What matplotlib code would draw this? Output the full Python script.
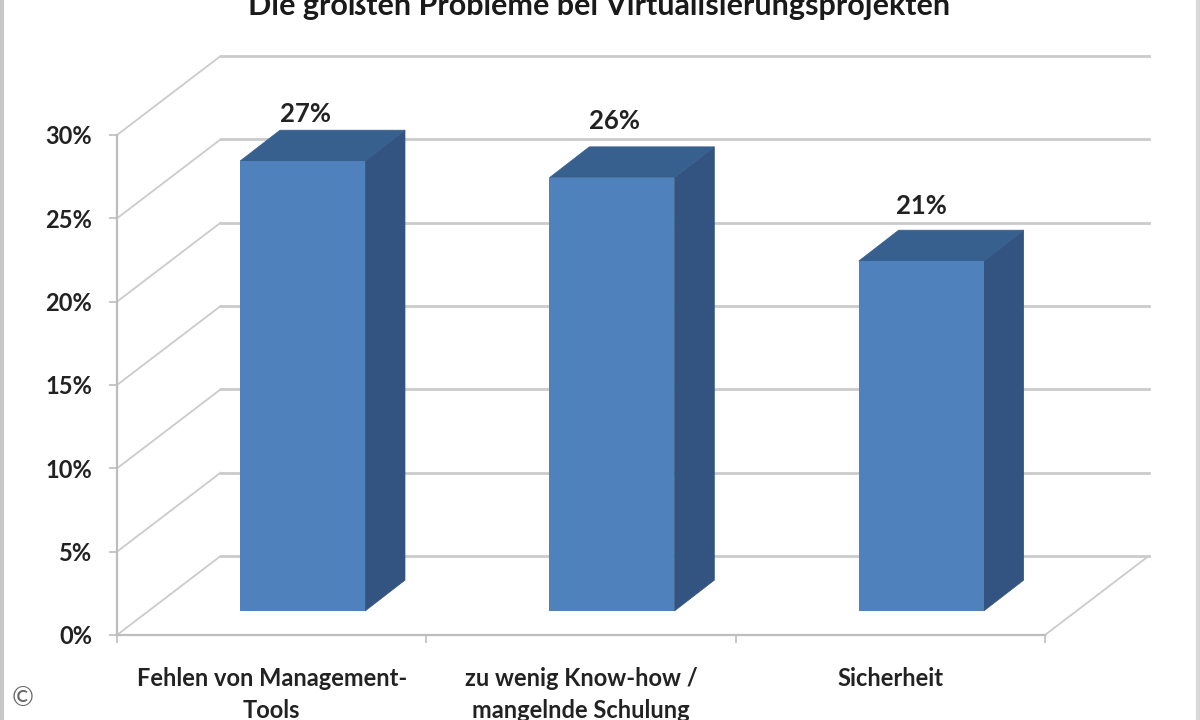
import matplotlib
matplotlib.use('Agg')
import matplotlib.pyplot as plt

plt.rcParams['font.family'] = ['Lato', 'DejaVu Sans']

categories = ['Fehlen von Management-\nTools', 'zu wenig Know-how /\nmangelnde Schulung', 'Sicherheit']
values = [27, 26, 21]
value_labels = ['27%', '26%', '21%']
y_ticks = [0, 5, 10, 15, 20, 25, 30]
y_tick_labels = ['0%', '5%', '10%', '15%', '20%', '25%', '30%']
label_gaps = [4, 14, 12]
label_shifts = [3, 3, 0]

grid_color = '#cbcbcb'
text_color = '#222222'

# 3d look: depth of the floor and of the bars in data units
depth_x = 0.335
depth_y = 4.74
bar_width = 0.404
bar_shift_x = 0.10
bar_shift_y = 1.44
bar_depth_x = 0.129
bar_depth_y = 1.85

fig = plt.figure(figsize=(12, 7.2), dpi=100)
ax = fig.add_axes([117 / 1200, 85 / 720, 928 / 1200, 500 / 720])
ax.set_xlim(0, 3)
ax.set_ylim(0, 30)
ax.patch.set_visible(False)

# walls
for y in y_ticks:
    ax.plot([0, depth_x], [y, y + depth_y], color=grid_color, lw=1.3, clip_on=False, zorder=1)
    ax.plot([depth_x, 3 + depth_x], [y + depth_y, y + depth_y], color=grid_color, lw=2, clip_on=False, zorder=1)
ax.plot([3, 3 + depth_x], [0, depth_y], color=grid_color, lw=1.3, clip_on=False, zorder=1)

# bars
for i, v in enumerate(values):
    left = i + 0.5 - bar_width / 2 + bar_shift_x
    right = left + bar_width
    top = v + bar_shift_y
    ax.fill([right, right + bar_depth_x, right + bar_depth_x, right],
            [bar_shift_y, bar_shift_y + bar_depth_y, top + bar_depth_y, top],
            facecolor='#335480', edgecolor='#335480', lw=0.5, zorder=3, clip_on=False)
    ax.fill([left, left + bar_depth_x, right + bar_depth_x, right],
            [top, top + bar_depth_y, top + bar_depth_y, top],
            facecolor='#38608f', edgecolor='#38608f', lw=0.5, zorder=3, clip_on=False)
    ax.bar(left, v, width=bar_width, bottom=bar_shift_y, align='edge', color='#4f81bd', zorder=4)
    ax.annotate(value_labels[i], (left + bar_width / 2, top + bar_depth_y),
                xytext=(label_shifts[i], label_gaps[i]), textcoords='offset pixels', annotation_clip=False,
                ha='center', va='bottom', fontsize=18.5, fontweight='bold', color=text_color)

for side in ['top', 'right']:
    ax.spines[side].set_visible(False)
for side in ['left', 'bottom']:
    ax.spines[side].set_color('#bdbdbd')
    ax.spines[side].set_linewidth(1.6)

ax.set_yticks(y_ticks)
ax.set_yticklabels(y_tick_labels, fontsize=17, fontweight='bold', color=text_color)
ax.tick_params(axis='y', length=6, width=1.2, color='#bdbdbd', pad=12)

ax.set_xticks([0, 1, 2, 3])
ax.set_xticklabels([])
ax.tick_params(axis='x', length=6, width=1.2, color='#bdbdbd')
ax.set_xticks([0.5, 1.5, 2.5], minor=True)
ax.set_xticklabels(categories, minor=True, fontsize=17, fontweight='bold', color=text_color, linespacing=1.5)
ax.tick_params(axis='x', which='minor', length=0, pad=23)

fig.text(599 / 1200, 1 - 15 / 720, 'Die größten Probleme bei Virtualisierungsprojekten',
         ha='center', va='baseline', fontsize=22, fontweight='bold', color='#1a1a1a')
fig.text(23 / 1200, 1 - 698 / 720, '©', ha='center', va='center', fontsize=19, color='#666666')

# picture frame
fig.add_artist(plt.Line2D([2 / 1200, 2 / 1200], [0, 1], color='#c8c8c8', lw=3))
fig.add_artist(plt.Line2D([1198 / 1200, 1198 / 1200], [0, 1], color='#d8d8d8', lw=3))

fig.savefig('out.png', dpi=100)
